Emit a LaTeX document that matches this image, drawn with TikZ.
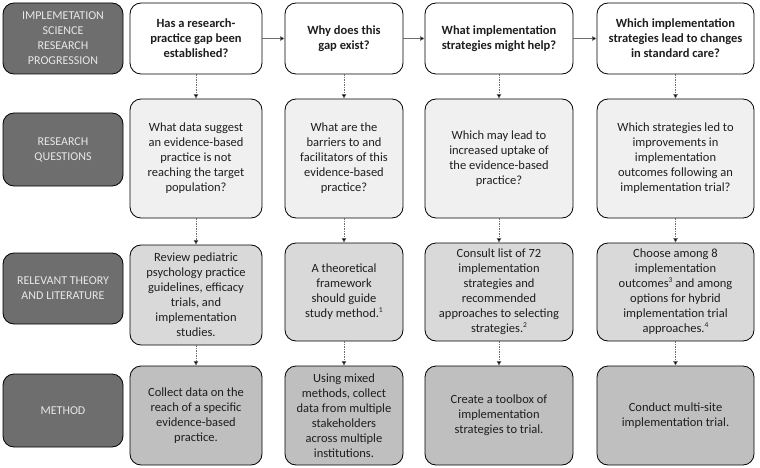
\documentclass[tikz,border=0pt]{standalone}
\usepackage{fontspec}
\setmainfont{Carlito}
\usetikzlibrary{arrows.meta}

\definecolor{headfill}{HTML}{6E6E6E}
\definecolor{headtext}{HTML}{E8E8E8}
\definecolor{rowtwo}{HTML}{F0F0F0}
\definecolor{rowthree}{HTML}{D9D9D9}
\definecolor{rowfour}{HTML}{BFBFBF}
\definecolor{bodytext}{HTML}{1E1E1E}
\definecolor{linkgray}{HTML}{6E6E6E}

\tikzset{
  box/.style={shape=rectangle,rounded corners=11pt,draw=black,line width=0.8pt,align=center,inner sep=2pt,text=bodytext,font=\fontsize{12.5}{15}\selectfont},
  headbox/.style={box,fill=headfill,text=headtext,minimum width=120pt,font=\fontsize{12}{15}\selectfont},
  askbox/.style={box,fill=white,font=\fontsize{12.5}{15}\selectfont\bfseries},
  qbox/.style={box,fill=rowtwo},
  litbox/.style={box,fill=rowthree},
  methbox/.style={box,fill=rowfour},
  nextstep/.style={draw=linkgray,line width=0.6pt,-{Triangle[length=4.5pt,width=4.5pt,fill=black]}},
  downstep/.style={draw=linkgray,line width=0.6pt,dash pattern=on 1.5pt off 1pt,-{Triangle[length=4.5pt,width=4.5pt,fill=black]}}
}
\newcommand{\fnref}[1]{\raisebox{0.45em}{\fontsize{7.5}{8}\selectfont #1}}

\begin{document}
\begin{tikzpicture}[x=1pt,y=-1pt]
\useasboundingbox (0,0) rectangle (760,468);

% row labels
\node[headbox,minimum height=71pt] (h0) at (63,38.5) {IMPLEMETATION\\SCIENCE\\RESEARCH\\PROGRESSION};
\node[headbox,minimum height=73pt] (h1) at (63,149.5) {RESEARCH\\QUESTIONS};
\node[headbox,minimum height=71pt] (h2) at (63,288.5) {RELEVANT THEORY\\AND LITERATURE};
\node[headbox,minimum height=73pt] (h3) at (63,410.5) {METHOD};

% progression
\node[askbox,minimum width=132pt,minimum height=71pt] (a1) at (196,38.5) {Has a research-\\practice gap been\\established?};
\node[askbox,minimum width=118pt,minimum height=71pt] (a2) at (344,38.5) {Why does this\\gap exist?};
\node[askbox,minimum width=148pt,minimum height=71pt] (a3) at (499,38.5) {What implementation\\strategies might help?};
\node[askbox,minimum width=157pt,minimum height=71pt] (a4) at (675.5,38.5) {Which implementation\\strategies lead to changes\\in standard care?};

% research questions
\node[qbox,minimum width=132pt,minimum height=119pt] (q1) at (196,158.5) {What data suggest\\an evidence-based\\practice is not\\reaching the target\\population?};
\node[qbox,minimum width=118pt,minimum height=119pt] (q2) at (344,158.5) {What are the\\barriers to and\\facilitators of this\\evidence-based\\practice?};
\node[qbox,minimum width=148pt,minimum height=119pt] (q3) at (499,158.5) {Which may lead to\\increased uptake of\\the evidence-based\\practice?};
\node[qbox,minimum width=157pt,minimum height=119pt] (q4) at (675.5,158.5) {Which strategies led to\\improvements in\\implementation\\outcomes following an\\implementation trial?};

% theory and literature
\node[litbox,minimum width=132pt,minimum height=100pt] (t1) at (196,295) {Review pediatric\\psychology practice\\guidelines, efficacy\\trials, and\\implementation\\studies.};
\node[litbox,minimum width=118pt,minimum height=98pt] (t2) at (344,292) {A theoretical\\framework\\should guide\\study method.\fnref{1}};
\node[litbox,minimum width=148pt,minimum height=98pt] (t3) at (499,292) {Consult list of 72\\implementation\\strategies and\\recommended\\approaches to selecting\\strategies.\fnref{2}};
\node[litbox,minimum width=157pt,minimum height=98pt] (t4) at (675.5,292) {Choose among 8\\implementation\\outcomes\fnref{3} and among\\options for hybrid\\implementation trial\\approaches.\fnref{4}};

% method
\node[methbox,minimum width=132pt,minimum height=99pt] (m1) at (196,415.5) {Collect data on the\\reach of a specific\\evidence-based\\practice.};
\node[methbox,minimum width=118pt,minimum height=99pt] (m2) at (344,415.5) {Using mixed\\methods, collect\\data from multiple\\stakeholders\\across multiple\\institutions.};
\node[methbox,minimum width=148pt,minimum height=99pt] (m3) at (499,415.5) {Create a toolbox of\\implementation\\strategies to trial.};
\node[methbox,minimum width=157pt,minimum height=99pt] (m4) at (675.5,415.5) {Conduct multi-site\\implementation trial.};

\path[nextstep] (a1) -- (a2);
\path[nextstep] (a2) -- (a3);
\path[nextstep] (a3) -- (a4);

\foreach \c in {1,2,3,4} {
  \path[downstep] (a\c) -- (q\c);
  \path[downstep] (q\c) -- (t\c);
  \path[downstep] (t\c) -- (m\c);
}
\end{tikzpicture}
\end{document}
